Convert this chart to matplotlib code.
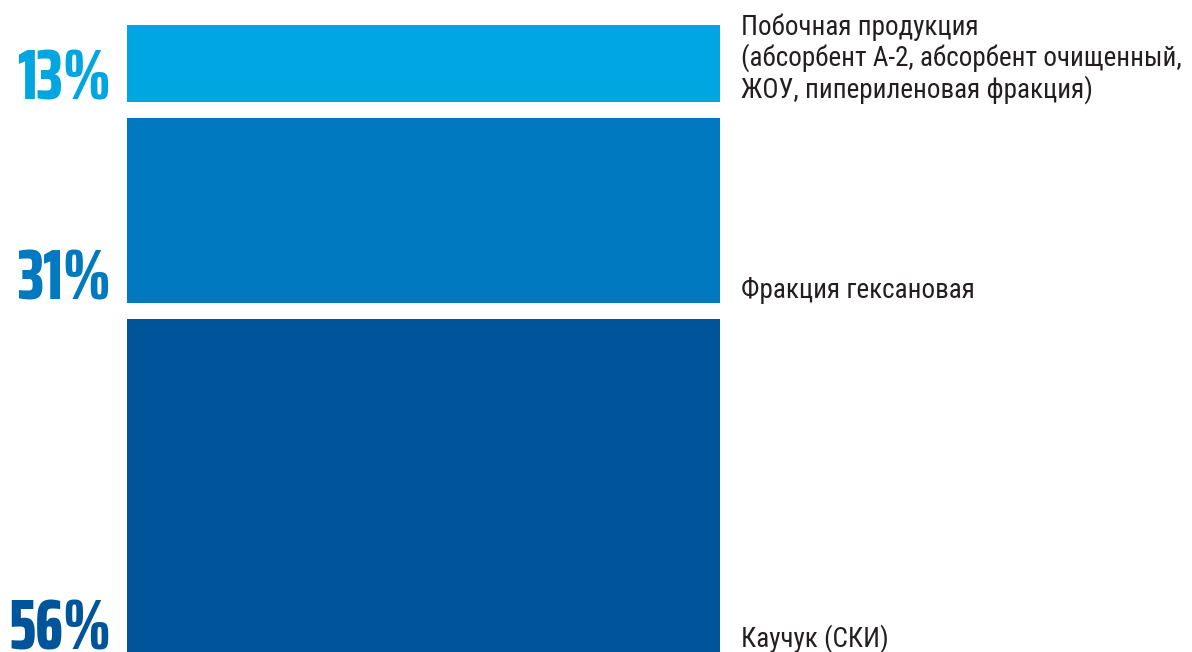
import matplotlib
matplotlib.use('Agg')
import matplotlib.pyplot as plt

# доли продукции, снизу вверх
shares = [56, 31, 13]
pct_labels = ['56%', '31%', '13%']
names = ['Каучук (СКИ)',
         'Фракция гексановая',
         'Побочная продукция\n(абсорбент А-2, абсорбент очищенный,\nЖОУ, пипериленовая фракция)']
colors = ['#00559A', '#0079C1', '#00A6E2']

gap = 2.7  # белый зазор между сегментами

fig = plt.figure(figsize=(11.92, 6.52), dpi=100)
ax = fig.add_axes([127/1192, 0, (720-127)/1192, 1])
ax.set_xlim(-0.5, 0.5)
ax.set_ylim(0, 109.6)
ax.axis('off')

bottom = 0
for v, p, n, c in zip(shares, pct_labels, names, colors):
    ax.bar(0, v, bottom=bottom, width=1.0, color=c, linewidth=0)
    ax.annotate(p, xy=(-0.5, bottom), xytext=(-16, 3), textcoords='offset pixels',
                ha='right', va='baseline', fontsize=51, fontweight=800,
                family=['Saira ExtraCondensed', 'DejaVu Sans'], color=c,
                annotation_clip=False)
    ax.annotate(n, xy=(0.5, bottom), xytext=(21, 5), textcoords='offset pixels',
                ha='left', va='baseline', fontsize=19.5,
                family=['Roboto Condensed', 'DejaVu Sans'],
                color='#231F20', linespacing=1.12, annotation_clip=False)
    bottom += v + gap

plt.savefig('out.png', dpi=100)
